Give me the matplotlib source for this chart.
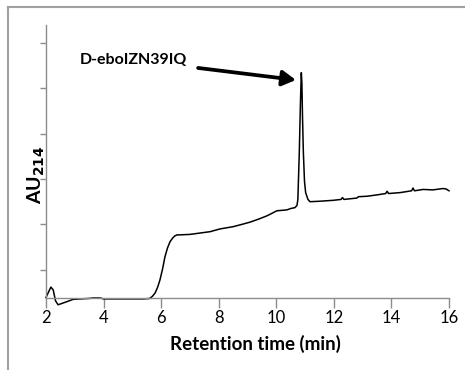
import matplotlib as mpl
mpl.use('agg')
import numpy as np
import matplotlib.pyplot as plt
from matplotlib.lines import Line2D

plt.rcParams['font.family'] = ['Lato', 'DejaVu Sans']

# chromatogram trace (time in min, absorbance in tick units)
t = [2.00, 2.08, 2.17, 2.25, 2.33, 2.42, 2.55, 2.73, 2.94, 3.20, 3.50, 3.63, 3.75, 3.88, 4.00,
     4.50, 5.00, 5.40, 5.61, 5.70, 5.79, 5.88, 5.96, 6.05, 6.13, 6.22, 6.31, 6.40, 6.48, 6.56,
     6.65, 7.00, 7.35, 7.70, 8.04, 8.50, 8.80, 9.09, 9.40, 9.68, 10.02, 10.20, 10.37, 10.50,
     10.65, 10.72, 10.75, 10.80, 10.84, 10.87, 10.89, 10.91, 10.94, 10.98, 11.02, 11.10,
     11.17, 11.50, 11.97, 12.25, 12.30, 12.35, 12.80, 12.85, 13.15, 13.50, 13.80, 13.85,
     13.90, 14.30, 14.70, 14.75, 14.80, 15.10, 15.44, 15.79, 15.90, 16.00]
au = [-0.61, -0.50, -0.38, -0.44, -0.68, -0.77, -0.74, -0.70, -0.65, -0.64, -0.63, -0.62,
      -0.62, -0.62, -0.64, -0.64, -0.64, -0.64, -0.63, -0.58, -0.51, -0.38, -0.22, 0.02,
      0.28, 0.48, 0.62, 0.70, 0.75, 0.77, 0.77, 0.78, 0.81, 0.84, 0.90, 0.95, 1.00, 1.05,
      1.12, 1.19, 1.30, 1.31, 1.32, 1.35, 1.37, 1.42, 1.55, 2.60, 3.70, 4.34, 4.10, 3.40,
      2.60, 1.95, 1.70, 1.55, 1.50, 1.51, 1.53, 1.55, 1.59, 1.55, 1.58, 1.61, 1.62, 1.65,
      1.68, 1.73, 1.68, 1.70, 1.74, 1.80, 1.74, 1.77, 1.76, 1.79, 1.78, 1.74]

peak_label = "D-eboIZN39IQ"

fig = plt.figure(figsize=(4.65, 3.7), dpi=100)
ax = fig.add_axes([0.0989, 0.1946, 0.8667, 0.7378])

ax.plot(t, au, color='black', linewidth=1.1, clip_on=False)

ax.set_xlim(2, 16)
ax.set_ylim(-0.62, 5.39)
ax.set_xticks(np.arange(2, 17, 2))
ax.set_yticks(np.arange(0, 6, 1))
ax.set_yticklabels([])

for side in ['top', 'right']:
    ax.spines[side].set_visible(False)
for side in ['left', 'bottom']:
    ax.spines[side].set_color('#8c8c8c')
    ax.spines[side].set_linewidth(1.0)
ax.tick_params(axis='x', direction='out', length=7, width=1, color='#8c8c8c',
               labelsize=12, pad=2)
ax.tick_params(axis='y', direction='out', length=4, width=1, color='#8c8c8c')

ax.set_xlabel("Retention time (min)", fontsize=13.5, fontweight='bold')
ax.xaxis.set_label_coords(0.52, -0.135)
ax.set_ylabel(r"AU$_{\mathbf{214}}$", fontsize=14, fontweight='bold')
ax.yaxis.set_label_coords(0.003, 0.45)

ax.annotate(peak_label, xy=(10.68, 4.18), xytext=(6.9, 4.62),
            fontsize=11.5, fontweight='bold', ha='right', va='center',
            arrowprops=dict(arrowstyle='-|>,head_length=0.7,head_width=0.4',
                            color='black', lw=2.7, shrinkA=6, shrinkB=0))

# outer frame (top and left edges only)
fig.add_artist(Line2D([8/465, 8/465], [0, 1 - 7/370], color='#a0a0a0', lw=1.5))
fig.add_artist(Line2D([8/465, 1], [1 - 7/370, 1 - 7/370], color='#a0a0a0', lw=1.5))

plt.savefig("out.png", dpi=100)
